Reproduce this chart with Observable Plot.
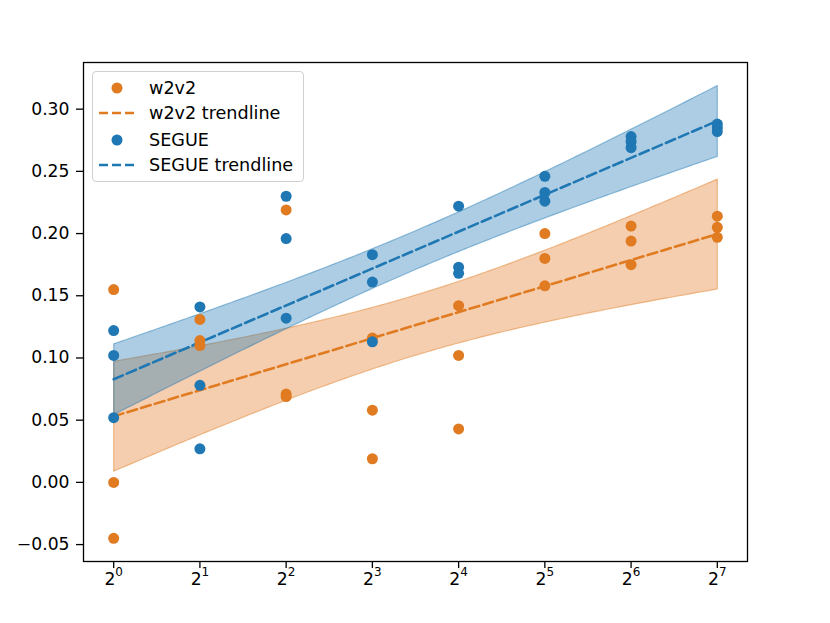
<!DOCTYPE html>
<html>
<head>
<meta charset="utf-8">
<script src="https://cdn.jsdelivr.net/npm/d3@7"></script>
<script src="https://cdn.jsdelivr.net/npm/@observablehq/plot@0.6"></script>
<style>
  body { margin: 0; background: #fff; }
  #wrap { position: relative; width: 830px; height: 623px; font-family: "DejaVu Sans", sans-serif; }
  #legend { position: absolute; left: 92px; top: 71px; width: 212px; height: 111px; box-sizing: border-box;
    border: 1px solid #d0d0d0; border-radius: 4px; background: rgba(255,255,255,0.85); }
  .row { position: absolute; left: 0; height: 26px; display: flex; align-items: center; font-size: 17.6px; color: #000; white-space: nowrap; }
  .row svg { margin-left: 6px; margin-right: 14px; }
</style>
</head>
<body>
<div id="wrap"><div id="legend"></div></div>
<script>
// ---- data ----
const xValues = [1, 2, 4, 8, 16, 32, 64, 128];
const w2v2 = [
  [0.155, 0.000, -0.045],
  [0.131, 0.114, 0.110],
  [0.219, 0.071, 0.069],
  [0.116, 0.058, 0.019],
  [0.142, 0.102, 0.043],
  [0.200, 0.180, 0.158],
  [0.206, 0.194, 0.175],
  [0.214, 0.205, 0.197]
];
const segue = [
  [0.122, 0.102, 0.052],
  [0.141, 0.078, 0.027],
  [0.230, 0.196, 0.132],
  [0.183, 0.161, 0.113],
  [0.222, 0.173, 0.168],
  [0.246, 0.233, 0.226],
  [0.278, 0.274, 0.269],
  [0.288, 0.285, 0.282]
];
const yTicks = [-0.05, 0.00, 0.05, 0.10, 0.15, 0.20, 0.25, 0.30];
const seriesNames = ["w2v2", "SEGUE"];
const legendLabels = ["w2v2", "w2v2 trendline", "SEGUE", "SEGUE trendline"];
const colors = {w2v2: "#e07b22", SEGUE: "#1f77b4"};

const toRows = (vals, name) => vals.flatMap((arr, i) => arr.map(v => ({x: xValues[i], y: v, series: name})));
const dW = toRows(w2v2, "w2v2");
const dS = toRows(segue, "SEGUE");

const fmtPow = v => "2^" + Math.round(Math.log2(v));

const reg = (data, c) => Plot.linearRegressionY(data, {
  x: "x", y: "y", stroke: c, fill: c, fillOpacity: 0.37, strokeWidth: 2.6, strokeDasharray: "10,4.3", ci: 0.95
});

const chart = Plot.plot({
  width: 830, height: 623,
  marginTop: 62, marginBottom: 62, marginLeft: 83, marginRight: 83,
  style: {fontFamily: "DejaVu Sans, sans-serif", fontSize: "17.2px", background: "white", color: "black"},
  x: {type: "log", base: 2, domain: [Math.pow(2, -0.35), Math.pow(2, 7.35)]},
  y: {domain: [-0.0636, 0.3375]},
  marks: [
    reg(dW, colors.w2v2),
    reg(dS, colors.SEGUE),
    Plot.dot(dW, {x: "x", y: "y", r: 5.5, fill: colors.w2v2, stroke: "none"}),
    Plot.dot(dS, {x: "x", y: "y", r: 5.5, fill: colors.SEGUE, stroke: "none"}),
    Plot.axisX({ticks: xValues, tickFormat: fmtPow, tickSize: 7, tickPadding: 4, label: null, strokeWidth: 1.3, fontSize: 17.2}),
    Plot.axisY({ticks: yTicks, tickFormat: d3.format(".2f"), tickSize: 7, tickPadding: 7, label: null, strokeWidth: 1.3, fontSize: 17.2}),
    Plot.frame({stroke: "black", strokeWidth: 1.3})
  ]
});

const svg = d3.select(chart);
// x tick labels as base with superscript exponent
svg.selectAll('g[aria-label="x-axis tick label"] text').each(function() {
  const t = d3.select(this);
  const s = t.text();
  if (!s.includes("^")) return;
  const [base, exp] = s.split("^");
  t.text(null);
  t.append("tspan").text(base);
  t.append("tspan").attr("dy", -8.3).style("font-size", "12px").text(exp);
});
// band edges like matplotlib fill_between outlines
svg.selectAll('g[aria-label="linear-regression"]').each(function() {
  const g = d3.select(this);
  const c = g.attr("stroke");
  g.selectAll('path[stroke="none"]').attr("stroke", c).attr("stroke-opacity", 0.45)
    .attr("stroke-width", 1.2).attr("stroke-dasharray", "none");
});

document.getElementById("wrap").prepend(chart);

// legend
const leg = document.getElementById("legend");
const tops = [3, 28, 55, 80];
legendLabels.forEach((lab, i) => {
  const name = seriesNames[i < 2 ? 0 : 1];
  const isLine = i % 2 === 1;
  const row = document.createElement("div");
  row.className = "row";
  row.style.top = tops[i] + "px";
  const sw = isLine
    ? `<svg width="36" height="12"><line x1="0" x2="36" y1="6" y2="6" stroke="${colors[name]}" stroke-width="2.6" stroke-dasharray="9,4"/></svg>`
    : `<svg width="36" height="12"><circle cx="18" cy="6" r="5.5" fill="${colors[name]}"/></svg>`;
  row.innerHTML = sw + `<span>${lab}</span>`;
  leg.appendChild(row);
});
</script>
</body>
</html>
